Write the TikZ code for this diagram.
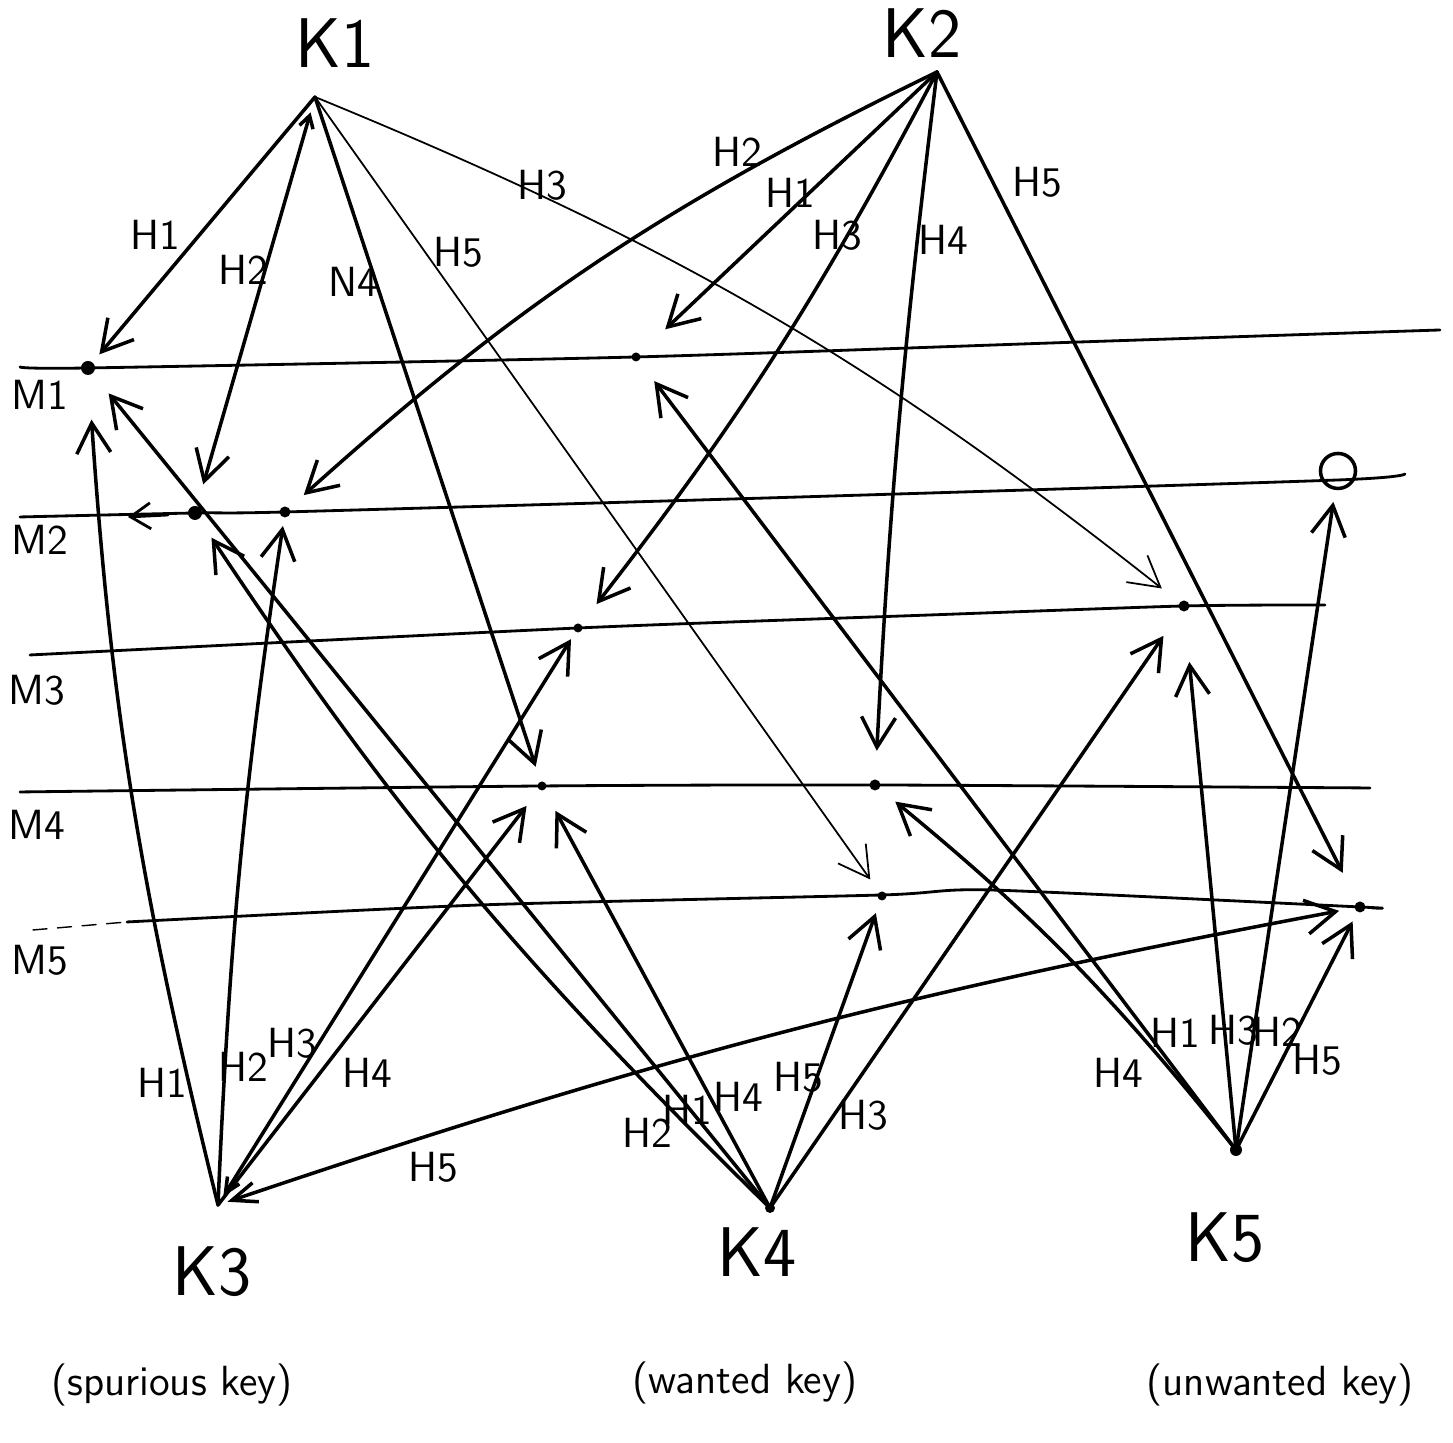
\documentclass[tikz,border=0pt]{standalone}
\usepackage{tikz}
\usetikzlibrary{arrows.meta}

\begin{document}
\begin{tikzpicture}[x=0.01cm, y=0.01cm, line cap=round, line join=round,
    mline/.style={line width=0.8pt},
    edge/.style={line width=1pt, -{Straight Barb[length=3mm,width=3.4mm]}},
    thinedge/.style={edge, line width=0.5pt},
    gap/.style={shorten >=#1},
    pt/.style={circle, fill, inner sep=0pt, minimum size=1.1mm},
    keylbl/.style={font=\sffamily\fontsize{20}{22}\selectfont},
    hlbl/.style={font=\sffamily\fontsize{12}{14}\selectfont, inner sep=1pt},
    note/.style={font=\sffamily\fontsize{12}{14}\selectfont}]
  \useasboundingbox (0,0) rectangle (1453,1443);

  % message lines
  \draw[mline] plot[smooth, tension=0.4] coordinates {(20,1076) (88,1075) (636,1086) (1080,1101) (1440,1113)};
  \draw[mline] plot[smooth, tension=0.4] coordinates {(20,926) (195,930) (285,931) (800,946) (1338,963) (1405,969)};
  \draw[mline] plot[smooth, tension=0.4] coordinates {(30,788) (578,815) (930,828) (1184,837) (1325,838)};
  \draw[mline] plot[smooth, tension=0.4] coordinates {(20,651) (542,657) (875,658) (1370,655)};
  \draw[line width=0.4pt, dash pattern=on 4pt off 3pt] (33,513) -- (127,521);
  \draw[mline] plot[smooth, tension=0.4] coordinates {(127,521) (480,538) (882,548) (990,553) (1360,536) (1372,535)};
  \draw[mline, -{Straight Barb[length=2mm,width=2.6mm]}] (168,928) -- (128,926);

  \node[note] (lm1) at (40,1048) {M1};
  \node[note] (lm2) at (40,903) {M2};
  \node[note] (lm3) at (37,753) {M3};
  \node[note] (lm4) at (37,618) {M4};
  \node[note] (lm5) at (40,483) {M5};

  % points on the lines
  \node[pt, minimum size=1.4mm] (m1a) at (88,1075) {};
  \node[pt, minimum size=0.9mm] (m1b) at (636,1086) {};
  \node[pt, minimum size=1.4mm] (m2a) at (195,930) {};
  \node[pt] (m2b) at (285,931) {};
  \node[draw, circle, line width=1pt, inner sep=0pt, minimum size=3.5mm] (m2o) at (1338,972) {};
  \node[pt, minimum size=0.9mm] (m3a) at (578,815) {};
  \node[pt] (m3b) at (1184,837) {};
  \node[pt, minimum size=0.9mm] (m4a) at (542,657) {};
  \node[pt] (m4b) at (875,658) {};
  \node[pt, minimum size=0.9mm] (m5a) at (882,547) {};
  \node[pt] (m5b) at (1360,536) {};

  % keys
  \coordinate (k1) at (315,1346);
  \coordinate (k2) at (937,1371);
  \coordinate (k3) at (218,238);
  \coordinate (k4) at (770,235);
  \coordinate (k5) at (1236,293);
  \fill (k4) circle (5); \fill (k5) circle (6);
  \node[keylbl] (lk1) at (335,1400) {K1};
  \node[keylbl] (lk2) at (922,1410) {K2};
  \node[keylbl] (lk3) at (212,171) {K3};
  \node[keylbl] (lk4) at (757,191) {K4};
  \node[keylbl] (lk5) at (1225,205) {K5};
  \node[note] (nk3) at (172,58) {(spurious key)};
  \node[note] (nk4) at (745,60) {(wanted key)};
  \node[note] (nk5) at (1280,58) {(unwanted key)};

  % K1
  \draw[edge, gap=1mm] (k1) -- (m1a);
  \draw[edge, gap=2.2mm, {Straight Barb[length=1.2mm,width=1.4mm]}-{Straight Barb[length=3mm,width=3.4mm]}, shorten <=1.6mm] (k1) -- (m2a);
  \draw[edge, gap=1.5mm] (k1) -- (m4a);
  \draw[thinedge, gap=1.5mm] (k1) -- (m5a);
  \draw[thinedge, gap=2.2mm] (k1) to[bend left=8] (m3b);
  \node[hlbl] (h11) at (155,1208) {H1};
  \node[hlbl] (h12) at (243,1173) {H2};
  \node[hlbl] (h14) at (353,1161) {N4};
  \node[hlbl] (h15) at (458,1191) {H5};
  \node[hlbl] (h13) at (542,1258) {H3};

  % K2
  \draw[edge, gap=1.9mm] (k2) to[bend right=8] (m2b);
  \draw[edge, gap=3.5mm] (k2) -- (m1b);
  \draw[edge, gap=2.5mm] (k2) to[bend left=5] (m3a);
  \draw[edge, gap=2.8mm] (k2) to[bend right=2] (m4b);
  \draw[edge, gap=3.2mm] (k2) -- (m5b);
  \node[hlbl] (h22) at (737,1291) {H2};
  \node[hlbl] (h21) at (790,1250) {H1};
  \node[hlbl] (h23) at (837,1208) {H3};
  \node[hlbl] (h24) at (943,1203) {H4};
  \node[hlbl] (h25) at (1037,1261) {H5};

  % K3
  \draw[edge, gap=4.4mm] (k3) to[bend left=5] (m1a);
  \draw[edge, gap=0.8mm] (k3) to[bend left=3] (m2b);
  \draw[edge, gap=0.8mm, {Straight Barb[length=1.5mm,width=1.4mm]}-{Straight Barb[length=3mm,width=3.4mm]}, shorten <=1mm] (k3) -- (m3a);
  \draw[edge, gap=2mm] (k3) -- (m4a);
  \draw[edge, gap=1.5mm, {Straight Barb[length=2.5mm,width=2mm]}-{Straight Barb[length=3mm,width=3.4mm]}, shorten <=1mm] (k3) to[bend left=4] (m5b);
  \node[hlbl] (h31) at (162,360) {H1};
  \node[hlbl] (h32) at (243,376) {H2};
  \node[hlbl] (h33) at (292,400) {H3};
  \node[hlbl] (h34) at (367,370) {H4};
  \node[hlbl] (h35) at (433,276) {H5};

  % K4
  \draw[edge, gap=2.2mm] (k4) to[bend left=6] (m2a);
  \draw[edge, gap=2.5mm] (k4) -- (m1a);
  \draw[edge, gap=2.3mm] (k4) -- (m4a);
  \draw[edge, gap=1.3mm] (k4) -- (m5a);
  \draw[edge, gap=3mm] (k4) -- (m3b);
  \node[hlbl] (h42) at (647,310) {H2};
  \node[hlbl] (h41) at (687,333) {H1};
  \node[hlbl] (h44) at (738,346) {H4};
  \node[hlbl] (h45) at (798,366) {H5};
  \node[hlbl] (h43) at (863,328) {H3};

  % K5
  \draw[edge, gap=2.5mm] (k5) -- (m1b);
  \draw[edge, gap=2mm] (k5) to[bend right=6] (m4b);
  \draw[edge, gap=5mm] (k5) -- (m3b);
  \draw[edge, gap=1.2mm] (k5) -- (m2o);
  \draw[edge, gap=1mm] (k5) -- (m5b);
  \node[hlbl] (h54) at (1118,370) {H4};
  \node[hlbl] (h51) at (1175,410) {H1};
  \node[hlbl] (h53) at (1233,413) {H3};
  \node[hlbl] (h52) at (1277,411) {H2};
  \node[hlbl] (h55) at (1317,383) {H5};
\end{tikzpicture}
\end{document}
